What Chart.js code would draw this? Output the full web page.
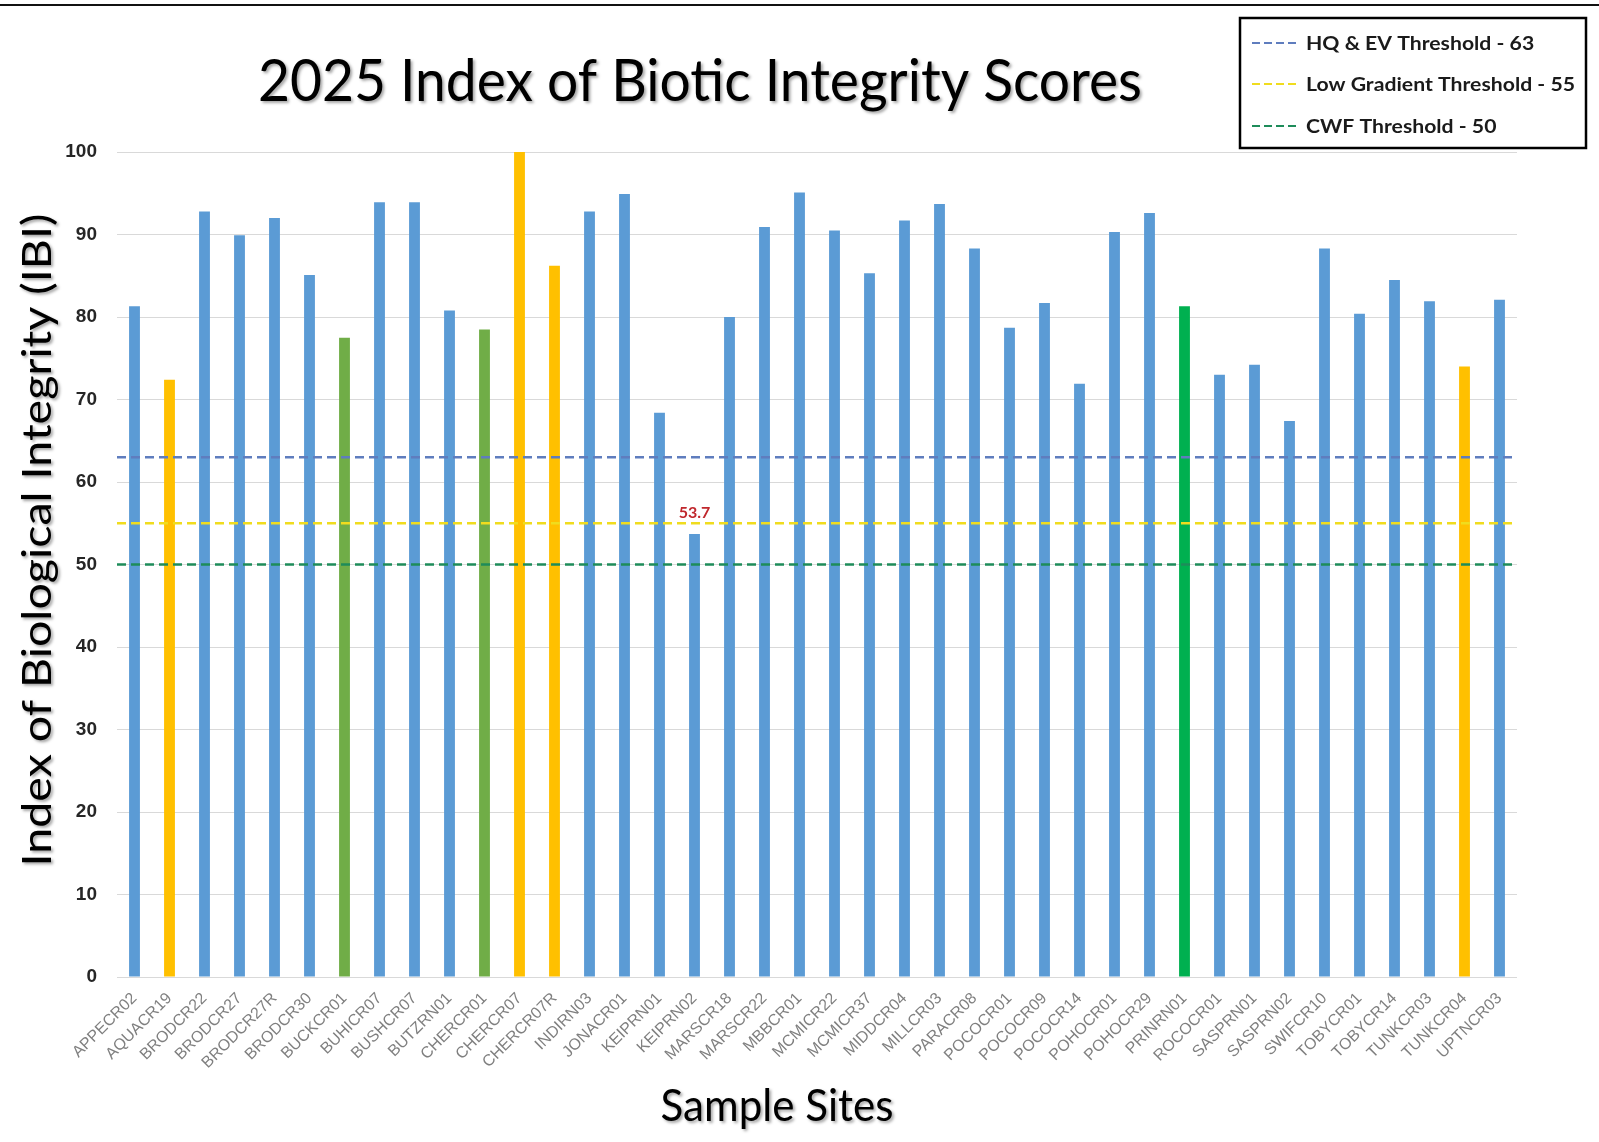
<!DOCTYPE html>
<html>
<head>
<meta charset="utf-8">
<script src="https://cdn.jsdelivr.net/npm/chart.js@4.4.1/dist/chart.umd.min.js"></script>
<style>
  html, body { margin: 0; padding: 0; background: #fff; }
  canvas { display: block; }
</style>
</head>
<body>
<canvas id="ibiChart" width="1599" height="1142"></canvas>
<script>
// datos
var sites = ['APPECR02','AQUACR19','BRODCR22','BRODCR27','BRODCR27R','BRODCR30','BUCKCR01','BUHICR07','BUSHCR07','BUTZRN01',
             'CHERCR01','CHERCR07','CHERCR07R','INDIRN03','JONACR01','KEIPRN01','KEIPRN02','MARSCR18','MARSCR22','MBBCR01',
             'MCMICR22','MCMICR37','MIDDCR04','MILLCR03','PARACR08','POCOCR01','POCOCR09','POCOCR14','POHOCR01','POHOCR29',
             'PRINRN01','ROCOCR01','SASPRN01','SASPRN02','SWIFCR10','TOBYCR01','TOBYCR14','TUNKCR03','TUNKCR04','UPTNCR03'];

var ibiScores = [81.3, 72.4, 92.8, 89.9, 92.0, 85.1, 77.5, 93.9, 93.9, 80.8,
                 78.5, 100, 86.2, 92.8, 94.9, 68.4, 53.7, 80.0, 90.9, 95.1,
                 90.5, 85.3, 91.7, 93.7, 88.3, 78.7, 81.7, 71.9, 90.3, 92.6,
                 81.3, 73.0, 74.2, 67.4, 88.3, 80.4, 84.5, 81.9, 74.0, 82.1];

// grupo de color de cada sitio
var siteGroup = ['b','y','b','b','b','b','o','b','b','b',
                 'o','y','y','b','b','b','b','b','b','b',
                 'b','b','b','b','b','b','b','b','b','b',
                 'g','b','b','b','b','b','b','b','y','b'];

var thresholdNames  = ['HQ & EV Threshold - 63', 'Low Gradient Threshold - 55', 'CWF Threshold - 50'];
var thresholdValues = [63, 55, 50];

var yTicks = [0, 10, 20, 30, 40, 50, 60, 70, 80, 90, 100];

var annotatedSite = 'KEIPRN02';

// estilos
var groupColors = { b: '#5B9BD5', y: '#FFC000', o: '#70AD47', g: '#00B050' };
var thresholdColors = ['#5F7DBE', '#F0DC1E', '#1E8C5A'];

var datasets = [];
for (var i = 0; i < thresholdValues.length; i++) {
    datasets.push({
        type: 'line',
        label: thresholdNames[i],
        xAxisID: 'x2',
        yAxisID: 'y',
        data: [{ x: 0, y: thresholdValues[i] }, { x: 1, y: thresholdValues[i] }],
        borderColor: thresholdColors[i],
        borderWidth: 2.5,
        borderDash: [9, 5],
        pointRadius: 0,
        fill: false,
        order: 0
    });
}
datasets.push({
    type: 'bar',
    label: 'IBI',
    data: ibiScores,
    backgroundColor: siteGroup.map(function (g) { return groupColors[g]; }),
    grouped: false,
    barPercentage: 0.31,
    categoryPercentage: 1,
    order: 1
});

function fitText(ctx, text, x, y, targetWidth, align) {
    var w = ctx.measureText(text).width;
    var sx = targetWidth / w;
    ctx.save();
    ctx.translate(x, y);
    ctx.scale(sx, 1);
    ctx.textAlign = align;
    ctx.fillText(text, 0, 0);
    ctx.restore();
}

var decorations = {
    id: 'decorations',
    afterDraw: function (chart) {
        var ctx = chart.ctx;

        // linea negra superior
        ctx.save();
        ctx.fillStyle = '#111';
        ctx.fillRect(0, 4, chart.width, 2);
        ctx.restore();

        // titulo
        ctx.save();
        ctx.fillStyle = '#000';
        ctx.shadowColor = 'rgba(0,0,0,0.35)';
        ctx.shadowOffsetX = 2;
        ctx.shadowOffsetY = 2;
        ctx.shadowBlur = 3;
        ctx.font = '58px Lato';
        ctx.textBaseline = 'alphabetic';
        fitText(ctx, '2025 Index of Biotic Integrity Scores', 700, 101, 884, 'center');

        // titulo eje x
        ctx.font = '44px Lato';
        fitText(ctx, 'Sample Sites', 777, 1121, 233, 'center');

        // titulo eje y
        ctx.save();
        ctx.translate(51, 540);
        ctx.rotate(-Math.PI / 2);
        ctx.font = '40px Lato';
        fitText(ctx, 'Index of Biological Integrity (IBI)', 0, 0, 653, 'center');
        ctx.restore();
        ctx.restore();

        // etiqueta del valor de KEIPRN02
        var idx = sites.indexOf(annotatedSite);
        var barMeta = chart.getDatasetMeta(chart.data.datasets.length - 1);
        var bar = barMeta.data[idx];
        ctx.save();
        ctx.fillStyle = '#C0282D';
        ctx.font = 'bold 16px Lato';
        ctx.textAlign = 'center';
        ctx.textBaseline = 'middle';
        ctx.fillText(ibiScores[idx].toFixed(1), bar.x, bar.y - 21);
        ctx.restore();

        // leyenda con borde
        ctx.save();
        ctx.fillStyle = '#fff';
        ctx.fillRect(1240, 18, 346, 130);
        ctx.strokeStyle = '#000';
        ctx.lineWidth = 2.5;
        ctx.strokeRect(1240, 18, 346, 130);
        ctx.font = 'bold 18px Lato';
        ctx.textBaseline = 'middle';
        var longest = ctx.measureText(thresholdNames[1]).width;
        var sx = 269 / longest;
        var rowY = [43, 84, 126];
        for (var k = 0; k < thresholdNames.length; k++) {
            ctx.strokeStyle = thresholdColors[k];
            ctx.lineWidth = 2;
            ctx.setLineDash([8, 4]);
            ctx.beginPath();
            ctx.moveTo(1252, rowY[k]);
            ctx.lineTo(1300, rowY[k]);
            ctx.stroke();
            ctx.setLineDash([]);
            ctx.fillStyle = '#1a1a1a';
            ctx.save();
            ctx.translate(1306, rowY[k] + 1);
            ctx.scale(sx, 1);
            ctx.textAlign = 'left';
            ctx.fillText(thresholdNames[k], 0, 0);
            ctx.restore();
        }
        ctx.restore();
    }
};

var ctx = document.getElementById('ibiChart').getContext('2d');
var ibiChart = new Chart(ctx,
{
    type: 'bar',
    data:
    {
        labels: sites,
        datasets: datasets
    },
    options:
    {
        responsive: false,
        animation: false,
        devicePixelRatio: 1,
        layout: { padding: { top: 152, right: 82, left: 0, bottom: 0 } },
        plugins:
        {
            legend: { display: false },
            title: { display: false },
            tooltip: { enabled: false }
        },
        scales:
        {
            x:
            {
                type: 'category',
                grid: { display: false },
                border: { display: false },
                ticks:
                {
                    autoSkip: false,
                    maxRotation: 45,
                    minRotation: 45,
                    padding: 4,
                    color: '#7F7F7F',
                    font: { family: 'Liberation Sans', size: 16 }
                },
                afterFit: function (scale) { scale.height = 165; }
            },
            x2:
            {
                type: 'linear',
                display: false,
                offset: false,
                min: 0,
                max: 1
            },
            y:
            {
                min: 0,
                max: 100,
                afterBuildTicks: function (scale) {
                    scale.ticks = yTicks.map(function (v) { return { value: v }; });
                },
                grid: { color: '#D9D9D9', lineWidth: 1, drawTicks: false },
                border: { display: false },
                ticks:
                {
                    padding: 20,
                    color: '#262626',
                    font: { family: 'Liberation Sans', size: 19, weight: 'bold' }
                },
                afterFit: function (scale) { scale.width = 117; }
            }
        }
    },
    plugins: [decorations]
});
</script>
</body>
</html>
